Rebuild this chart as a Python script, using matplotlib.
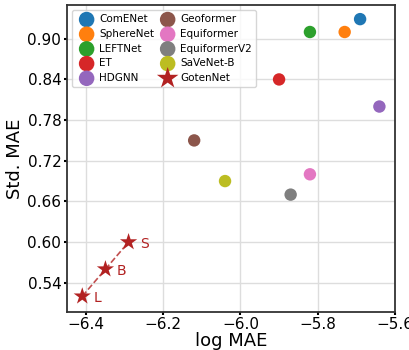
import matplotlib.pyplot as plt

models = ['ComENet', 'SphereNet', 'LEFTNet', 'ET', 'HDGNN',
          'Geoformer', 'Equiformer', 'EquiformerV2', 'SaVeNet-B']
log_mae = [-5.69, -5.73, -5.82, -5.90, -5.64, -6.12, -5.82, -5.87, -6.04]
std_mae = [0.929, 0.910, 0.910, 0.840, 0.800, 0.750, 0.700, 0.670, 0.690]
colors = ['#1f77b4', '#ff7f0e', '#2ca02c', '#d62728', '#9467bd',
          '#8c564b', '#e377c2', '#7f7f7f', '#bcbd22']

goten_sizes = ['L', 'B', 'S']
goten_log_mae = [-6.41, -6.35, -6.29]
goten_std_mae = [0.520, 0.560, 0.600]
goten_color = '#b22222'

fig = plt.figure(figsize=(4.1, 3.5), dpi=100)
ax = fig.add_axes([0.163, 0.109, 0.8, 0.877])

for name, x, y, c in zip(models, log_mae, std_mae, colors):
    ax.scatter(x, y, s=80, color=c, label=name, zorder=3, edgecolors='none')

ax.plot(goten_log_mae, goten_std_mae, '--', color=goten_color, lw=1.2, alpha=0.8, zorder=2)
ax.scatter(goten_log_mae, goten_std_mae, marker='*', s=170, color=goten_color,
           label='GotenNet', zorder=4, edgecolors='none')
for lab, x, y in zip(goten_sizes, goten_log_mae, goten_std_mae):
    ax.annotate(lab, (x, y), xytext=(8, -4), textcoords='offset points',
                color=goten_color, fontsize=10)

ax.set_xlim(-6.45, -5.6)
ax.set_ylim(0.497, 0.95)
ax.set_xticks([-6.4, -6.2, -6.0, -5.8, -5.6])
ax.set_yticks([0.54, 0.60, 0.66, 0.72, 0.78, 0.84, 0.90])
ax.set_yticklabels([f'{v:.2f}' for v in [0.54, 0.60, 0.66, 0.72, 0.78, 0.84, 0.90]])
ax.tick_params(labelsize=11, length=2, width=1.5, pad=2)
ax.set_xlabel('log MAE', fontsize=13, labelpad=0)
ax.set_ylabel('Std. MAE', fontsize=13, labelpad=2)
ax.grid(True, color='#dddddd', lw=1)
ax.set_axisbelow(True)
for sp in ax.spines.values():
    sp.set_color('#333333')
    sp.set_linewidth(1.3)

ax.legend(loc='upper left', ncol=2, fontsize=7.5, handletextpad=0.2,
          columnspacing=0.3, labelspacing=0.45, borderpad=0.4,
          markerscale=1.25, scatterpoints=1)

fig.savefig('out.png', dpi=100)
